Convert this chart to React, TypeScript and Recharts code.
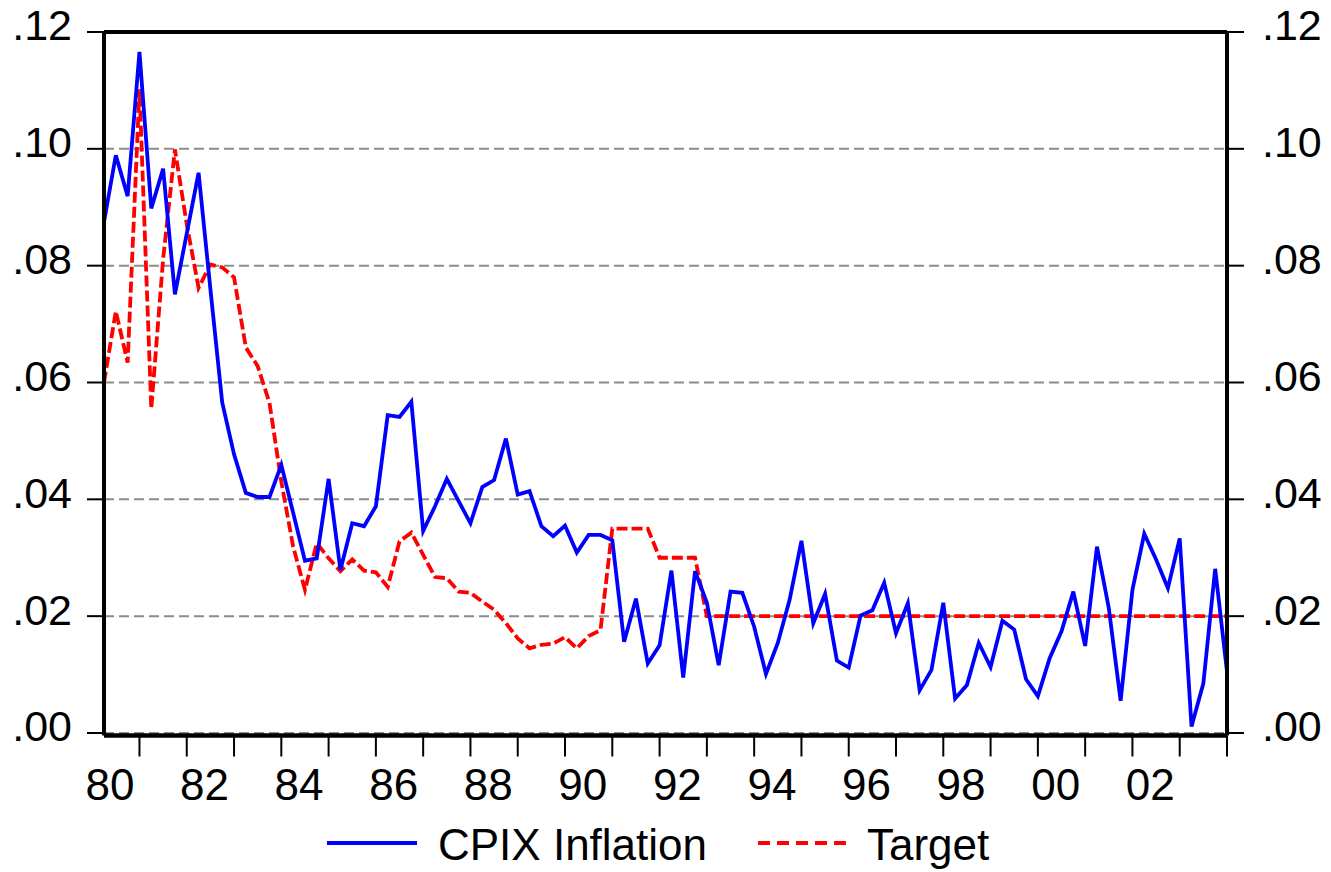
import React from "react";
import { LineChart, Line, XAxis, YAxis, CartesianGrid, ReferenceLine } from "recharts";

// quarterly, 1979Q2 .. 2003Q1
const startYear = 1979;
const startQuarter = 2;

const cpix = [
  0.0875, 0.0989, 0.0919, 0.1166, 0.0898, 0.0966, 0.0751, 0.0855, 0.0959, 0.076,
  0.0566, 0.0477, 0.0411, 0.0404, 0.0404, 0.0459, 0.0377, 0.0295, 0.0299, 0.0435,
  0.0279, 0.0359, 0.0354, 0.0388, 0.0544, 0.0541, 0.0567, 0.0346, 0.0388, 0.0435,
  0.0397, 0.0359, 0.0421, 0.0433, 0.0504, 0.0408, 0.0414, 0.0354, 0.0337, 0.0355,
  0.0309, 0.0339, 0.0339, 0.033, 0.0156, 0.023, 0.0119, 0.015, 0.0278, 0.0095,
  0.0277, 0.0223, 0.0116, 0.0242, 0.024, 0.0182, 0.0101, 0.0154, 0.0228, 0.0329,
  0.0188, 0.0238, 0.0124, 0.0112, 0.0201, 0.021, 0.0257, 0.0171, 0.0222, 0.0073,
  0.0108, 0.0223, 0.0059, 0.0082, 0.0154, 0.0113, 0.0192, 0.0177, 0.0092, 0.0063,
  0.0128, 0.0174, 0.0242, 0.0149, 0.0319, 0.0214, 0.0055, 0.0245, 0.0341, 0.0297,
  0.0248, 0.0333, 0.0011, 0.0085, 0.0281, 0.0105,
];

const target = [
  0.06, 0.0722, 0.0634, 0.1102, 0.0555, 0.0811, 0.0999, 0.0871, 0.0762, 0.0802,
  0.0797, 0.078, 0.066, 0.0628, 0.0565, 0.043, 0.0319, 0.0245, 0.0325, 0.0299,
  0.0277, 0.0297, 0.0278, 0.0275, 0.025, 0.0328, 0.0343, 0.0305, 0.0267, 0.0265,
  0.0242, 0.024, 0.0225, 0.0211, 0.0188, 0.0162, 0.0145, 0.0151, 0.0153, 0.0164,
  0.0145, 0.0166, 0.0176, 0.035, 0.035, 0.035, 0.035, 0.03, 0.03, 0.03,
  0.03, 0.02, 0.02, 0.02, 0.02, 0.02, 0.02, 0.02, 0.02, 0.02,
  0.02, 0.02, 0.02, 0.02, 0.02, 0.02, 0.02, 0.02, 0.02, 0.02,
  0.02, 0.02, 0.02, 0.02, 0.02, 0.02, 0.02, 0.02, 0.02, 0.02,
  0.02, 0.02, 0.02, 0.02, 0.02, 0.02, 0.02, 0.02, 0.02, 0.02,
  0.02, 0.02, 0.02, 0.02, 0.02, 0.02,
];

const yTicks = [0, 0.02, 0.04, 0.06, 0.08, 0.1, 0.12];
const yearLabels = ["80", "82", "84", "86", "88", "90", "92", "94", "96", "98", "00", "02"];
const yMin = -0.00043;
const yMax = 0.12;

const FONT = "'Liberation Sans', Arial, sans-serif";

const data = cpix.map((v, i) => {
  const q = startQuarter - 1 + i;
  return {
    i,
    year: startYear + Math.floor(q / 4),
    quarter: (q % 4) + 1,
    cpix: v,
    target: target[i],
  };
});

// a tick at the first quarter of each year
const yearTicks = data.filter((d) => d.quarter === 1).map((d) => d.i);

const fmtY = (v: number) => v.toFixed(2).replace(/^0/, "");

const LeftTick = (props: any) => {
  const { x, y, payload } = props;
  return (
    <text x={x - 13} y={y + 8.4} textAnchor="end" fontSize={43} fontFamily={FONT} fill="#000">
      {fmtY(payload.value)}
    </text>
  );
};

const RightTick = (props: any) => {
  const { x, y, payload } = props;
  return (
    <text x={x + 16} y={y + 8.4} textAnchor="start" fontSize={43} fontFamily={FONT} fill="#000">
      {fmtY(payload.value)}
    </text>
  );
};

const XTick = (props: any) => {
  const { x, y, payload } = props;
  const d = data[payload.value];
  if (!d || d.year % 2 !== 0) return <g />;
  const label = yearLabels[(d.year - 1980) / 2];
  return (
    <text x={x - 29.5} y={y + 41.5} textAnchor="middle" fontSize={44} fontFamily={FONT} fill="#000">
      {label}
    </text>
  );
};

export default function App() {
  return (
    <div style={{ position: "absolute", left: 0, top: 0, width: 1331, height: 872, background: "#fff" }}>
      <LineChart
        width={1331}
        height={872}
        data={data}
        margin={{ top: 32, right: 0, bottom: 0, left: 0 }}
      >
        <CartesianGrid
          yAxisId="left"
          vertical={false}
          stroke="#8c8c8c"
          strokeWidth={2}
          strokeDasharray="10 5"
        />
        <XAxis
          dataKey="i"
          type="number"
          domain={[0, 95]}
          ticks={yearTicks}
          interval={0}
          height={136.5}
          tickSize={21}
          axisLine={false}
          tickLine={{ stroke: "#000", strokeWidth: 2 }}
          tick={<XTick />}
        />
        <YAxis
          yAxisId="left"
          width={104}
          domain={[yMin, yMax]}
          ticks={yTicks}
          interval={0}
          allowDataOverflow
          tickSize={17}
          axisLine={{ stroke: "#000", strokeWidth: 4 }}
          tickLine={{ stroke: "#000", strokeWidth: 2 }}
          tick={<LeftTick />}
        />
        <YAxis
          yAxisId="right"
          orientation="right"
          width={104}
          domain={[yMin, yMax]}
          ticks={yTicks}
          interval={0}
          allowDataOverflow
          tickSize={17}
          axisLine={{ stroke: "#000", strokeWidth: 4 }}
          tickLine={{ stroke: "#000", strokeWidth: 2 }}
          tick={<RightTick />}
        />
        <Line
          yAxisId="left"
          type="linear"
          dataKey="target"
          stroke="#ff0000"
          strokeWidth={3.8}
          strokeDasharray="11 4"
          dot={false}
          isAnimationActive={false}
        />
        <Line
          yAxisId="left"
          type="linear"
          dataKey="cpix"
          stroke="#0000ff"
          strokeWidth={3.8}
          dot={false}
          isAnimationActive={false}
        />
        <ReferenceLine yAxisId="left" y={yMax} stroke="#000" strokeWidth={4} />
        <ReferenceLine yAxisId="left" y={yMin} stroke="#000" strokeWidth={4.5} />
      </LineChart>

      {/* legend */}
      <svg
        width={1331}
        height={72}
        style={{ position: "absolute", left: 0, top: 800 }}
      >
        <line x1={327} x2={417} y1={43} y2={43} stroke="#0000ff" strokeWidth={4} />
        <text x={438} y={60} fontSize={44} fontFamily={FONT} fill="#000">
          CPIX Inflation
        </text>
        <line
          x1={758}
          x2={848}
          y1={43}
          y2={43}
          stroke="#ff0000"
          strokeWidth={4}
          strokeDasharray="12 7"
        />
        <text x={867} y={60} fontSize={44} fontFamily={FONT} fill="#000">
          Target
        </text>
      </svg>
    </div>
  );
}
